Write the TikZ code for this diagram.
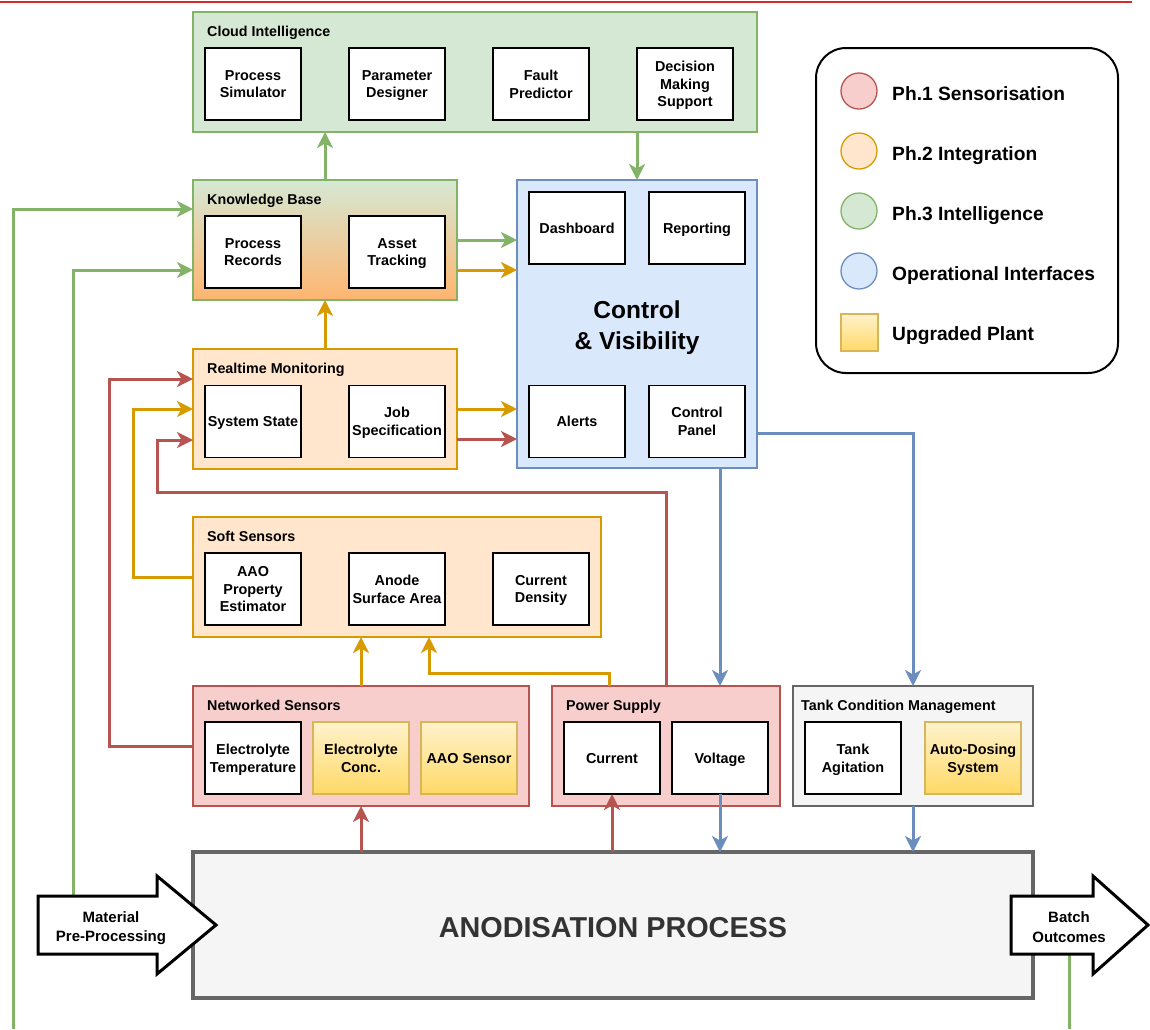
\documentclass[tikz,border=0pt]{standalone}
\usepackage{fontspec}
\setmainfont{Liberation Sans}
\usetikzlibrary{arrows.meta,calc}

\definecolor{redF}{HTML}{F8CECC}\definecolor{redS}{HTML}{B85450}
\definecolor{orgF}{HTML}{FFE6CC}\definecolor{orgS}{HTML}{D79B00}
\definecolor{grnF}{HTML}{D5E8D4}\definecolor{grnS}{HTML}{82B366}
\definecolor{bluF}{HTML}{DAE8FC}\definecolor{bluS}{HTML}{6C8EBF}
\definecolor{gryF}{HTML}{F5F5F5}\definecolor{gryS}{HTML}{666666}
\definecolor{ylwT}{HTML}{FFF2CC}\definecolor{ylwB}{HTML}{FFD966}\definecolor{ylwS}{HTML}{D6B656}
\definecolor{kbBot}{HTML}{FFB570}
\definecolor{topRed}{HTML}{D62A2A}
\definecolor{txtDark}{HTML}{333333}

\newcommand\lblfont{\fontsize{14.4}{17.7}\selectfont\bfseries}
\newcommand\grpfont{\fontsize{14.3}{17}\selectfont\bfseries}
\newcommand\legfont{\fontsize{19.2}{23}\selectfont\bfseries}
\newcommand\cvfont{\fontsize{24.5}{31}\selectfont\bfseries}
\newcommand\anodfont{\fontsize{28.8}{34}\selectfont\bfseries}
\newcommand\arrfont{\fontsize{15}{19.5}\selectfont\bfseries}

\begin{document}
\begin{tikzpicture}[x=1pt,y=-1pt,
  grp/.style={draw, line width=1.5pt, inner sep=0pt, outer sep=0pt},
  inbox/.style={draw=black, fill=white, line width=1.5pt, minimum width=96pt,
    minimum height=72pt, inner sep=0pt, outer sep=0pt, align=center, font=\lblfont,
    text depth=-2pt},
  upbox/.style={inbox, draw=ylwS, top color=ylwT, bottom color=ylwB},
  grptitle/.style={anchor=west, inner sep=0pt, font=\grpfont, text height=13.3pt, text depth=3pt},
  tip/.style={-{Stealth[length=16pt,width=16pt,inset=4.5pt]}},
  flowG/.style={draw=grnS, line width=3pt, tip},
  flowO/.style={draw=orgS, line width=3pt, tip},
  flowR/.style={draw=redS, line width=3pt, tip},
  flowB/.style={draw=bluS, line width=3pt, tip},
  lineG/.style={draw=grnS, line width=3pt},
  bigarrow/.style={draw=black, fill=white, line width=3pt, line join=miter},
  legdot/.style={circle, line width=1.3pt, minimum size=36pt, inner sep=0pt},
  legtxt/.style={anchor=west, inner sep=0pt, font=\legfont, text height=17.8pt, text depth=4pt}
]
\useasboundingbox (0,0) rectangle (1150,1029);
\fill[white] (0,0) rectangle (1150,1029);

% heading rule
\draw[topRed, line width=2.4pt] (0,2) -- (1132,2);

% ---------- groups ----------
\node[grp, draw=grnS, fill=grnF, minimum width=564pt, minimum height=120pt] (cloud) at (475,72) {};
\node[grp, draw=grnS, top color=grnF, bottom color=kbBot, minimum width=264pt, minimum height=120pt] (kb) at (325,240) {};
\node[grp, draw=orgS, fill=orgF, minimum width=264pt, minimum height=120pt] (rm) at (325,409) {};
\node[grp, draw=orgS, fill=orgF, minimum width=408pt, minimum height=120pt] (ss) at (397,577) {};
\node[grp, draw=bluS, fill=bluF, minimum width=240pt, minimum height=288pt] (cv) at (637,324) {};
\node[grp, draw=redS, fill=redF, minimum width=336pt, minimum height=120pt] (ns) at (361,746) {};
\node[grp, draw=redS, fill=redF, minimum width=228pt, minimum height=120pt] (ps) at (666,746) {};
\node[grp, draw=gryS, fill=gryF, minimum width=240pt, minimum height=120pt] (tcm) at (913,746) {};

% group titles
\node[grptitle] (cloudT) at (207,31) {Cloud Intelligence};
\node[grptitle] (kbT) at (207,199) {Knowledge Base};
\node[grptitle] (rmT) at (207,368) {Realtime Monitoring};
\node[grptitle] (ssT) at (207,536) {Soft Sensors};
\node[grptitle] (nsT) at (207,705) {Networked Sensors};
\node[grptitle] (psT) at (566,705) {Power Supply};
\node[grptitle] (tcmT) at (801,705) {Tank Condition Management};
\node[font=\cvfont, align=center, inner sep=0pt] (cvT) at (637,328) {Control\\\& Visibility};

% ---------- components ----------
\node[inbox] (psim) at (253,84) {Process\\Simulator};
\node[inbox] (pdes) at (397,84) {Parameter\\Designer};
\node[inbox] (fpred) at (541,84) {Fault\\Predictor};
\node[inbox] (dms) at (685,84) {Decision\\Making\\Support};

\node[inbox] (prec) at (253,252) {Process\\Records};
\node[inbox] (atrk) at (397,252) {Asset\\Tracking};

\node[inbox] (dash) at (577,228) {Dashboard};
\node[inbox] (rep) at (697,228) {Reporting};
\node[inbox] (alerts) at (577,421.5) {Alerts};
\node[inbox] (cpanel) at (697,421.5) {Control\\Panel};

\node[inbox] (sys) at (253,421.5) {System State};
\node[inbox] (job) at (397,421.5) {Job\\Specification};

\node[inbox] (aao) at (253,589) {AAO\\Property\\Estimator};
\node[inbox] (asa) at (397,589) {Anode\\Surface Area};
\node[inbox] (cd) at (541,589) {Current\\Density};

\node[inbox] (etemp) at (253,758) {Electrolyte\\Temperature};
\node[upbox] (econc) at (361,758) {Electrolyte\\Conc.};
\node[upbox] (aaos) at (469,758) {AAO Sensor};

\node[inbox] (cur) at (612,758) {Current};
\node[inbox] (volt) at (720,758) {Voltage};

\node[inbox] (tagit) at (853,758) {Tank\\Agitation};
\node[upbox] (adose) at (973,758) {Auto-Dosing\\System};

% ---------- process ----------
\node[draw=gryS, fill=gryF, line width=3.8pt, minimum width=840pt, minimum height=146pt,
  inner sep=0pt, outer sep=0pt, font=\anodfont, text=txtDark,
  text height=24.6pt, text depth=0pt] (anod) at (613,925) {ANODISATION PROCESS};

% ---------- legend ----------
\node[draw=black, line width=2pt, rounded corners=30pt, minimum width=302pt,
  minimum height=325pt, inner sep=0pt] (legend) at (967,210.5) {};
\node[legdot, draw=redS, fill=redF] (lg1) at (859,91) {};
\node[legdot, draw=orgS, fill=orgF] (lg2) at (859,151) {};
\node[legdot, draw=grnS, fill=grnF] (lg3) at (859,211) {};
\node[legdot, draw=bluS, fill=bluF] (lg4) at (859,271) {};
\node[draw=ylwS, top color=ylwT, bottom color=ylwB, line width=1.3pt,
  minimum size=37pt, inner sep=0pt] (lg5) at (859.5,332.5) {};
\node[legtxt] (lg1t) at (892,94) {Ph.1 Sensorisation};
\node[legtxt] (lg2t) at (892,154) {Ph.2 Integration};
\node[legtxt] (lg3t) at (892,214) {Ph.3 Intelligence};
\node[legtxt] (lg4t) at (892,274) {Operational Interfaces};
\node[legtxt] (lg5t) at (892,334) {Upgraded Plant};

% free ends of the feedback lines
\coordinate (fbIn) at (13,1029);
\coordinate (matTop) at (73,896);
\coordinate (boBot) at (1069,954);
\coordinate (fbOut) at (1069,1029);

% ---------- connectors ----------
\draw[flowG] (kb.north) -- (kb.north |- cloud.south);
\draw[flowG] (cv.north |- cloud.south) -- (cv.north);
\draw[flowG] (kb.east) -- (kb.east -| cv.west);
\draw[flowO] ($(kb.east)+(0,30)$) -- ($(kb.east -| cv.west)+(0,30)$);
\draw[flowO] (rm.north) -- (kb.south);
\draw[flowO] (rm.east) -- (rm.east -| cv.west);
\draw[flowR] ($(rm.east)+(0,30)$) -- ($(rm.east -| cv.west)+(0,30)$);

\draw[flowO] (ss.west) -- ++(-60,0) |- (rm.west);
\draw[flowR] (ns.west) -- ++(-84,0) |- ($(rm.west)+(0,-30)$);
\draw[flowR] (ps.north) |- ($(rm.west)+(-36,83)$) |- ($(rm.west)+(0,31)$);

\draw[flowO] (ns.north) -- (ns.north |- ss.south);
\draw[flowO] ($(ps.north)+(-57,0)$) |- ($(ss.south)+(32,36)$) -- ($(ss.south)+(32,0)$);

\draw[flowR] (ns.south |- anod.north) -- (ns.south);
\draw[flowR] (cur.south |- anod.north) -- (cur.south);
\draw[flowB] (volt.south) -- (volt.south |- anod.north);
\draw[flowB] (volt.north |- cv.south) -- (volt.north |- ps.north);
\draw[flowB] ($(cv.east)+(0,109)$) -| (tcm.north);
\draw[flowB] (tcm.south) -- (tcm.south |- anod.north);

\draw[flowG] (fbIn) |- ($(kb.west)+(0,-31)$);
\draw[flowG] (matTop) |- ($(kb.west)+(0,30)$);
\draw[lineG] (boBot) -- (fbOut);

% ---------- input / output arrows ----------
\draw[bigarrow] (38,896) -- (157,896) -- (157,876) -- (216,925) -- (157,974) -- (157,954) -- (38,954) -- cycle;
\node[font=\arrfont, align=center, inner sep=0pt] (mat) at (111,928) {Material\\Pre-Processing};
\draw[bigarrow] (1011,896) -- (1093,896) -- (1093,876) -- (1148,925) -- (1093,974) -- (1093,954) -- (1011,954) -- cycle;
\node[font=\arrfont, align=center, inner sep=0pt] (bo) at (1069,927) {Batch\\Outcomes};

\end{tikzpicture}
\end{document}
